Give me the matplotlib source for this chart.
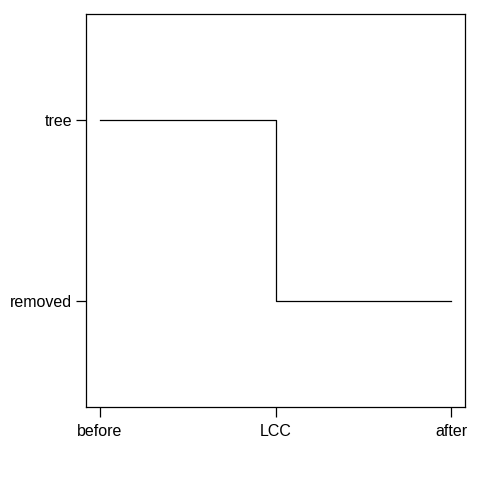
import matplotlib
matplotlib.use("Agg")
import matplotlib.pyplot as plt

# stages and state at each stage
stages = ["before", "LCC", "after"]
states = ["tree", "removed", "removed"]
levels = ["removed", "tree"]

plt.rcParams["font.family"] = ["Liberation Sans", "DejaVu Sans"]

fig = plt.figure(figsize=(4.8, 4.8), dpi=100)
ax = fig.add_axes([86 / 480, (480 - 407) / 480, (465 - 86) / 480, (407 - 14) / 480])

x = list(range(1, len(stages) + 1))
y = [levels.index(s) for s in states]
ax.step(x, y, where="post", color="black", linewidth=0.9)

ax.set_xlim(0.92, 3.08)
ax.set_ylim(-0.58, 1.58)
ax.set_xticks(x)
ax.set_xticklabels(stages)
ax.set_yticks(range(len(levels)))
ax.set_yticklabels(levels)
ax.tick_params(direction="out", length=7, width=0.9, labelsize=11.5)
ax.tick_params(axis="x", pad=5.5)
ax.tick_params(axis="y", pad=3)
for sp in ax.spines.values():
    sp.set_linewidth(0.9)

fig.savefig("out.png", dpi=100)
